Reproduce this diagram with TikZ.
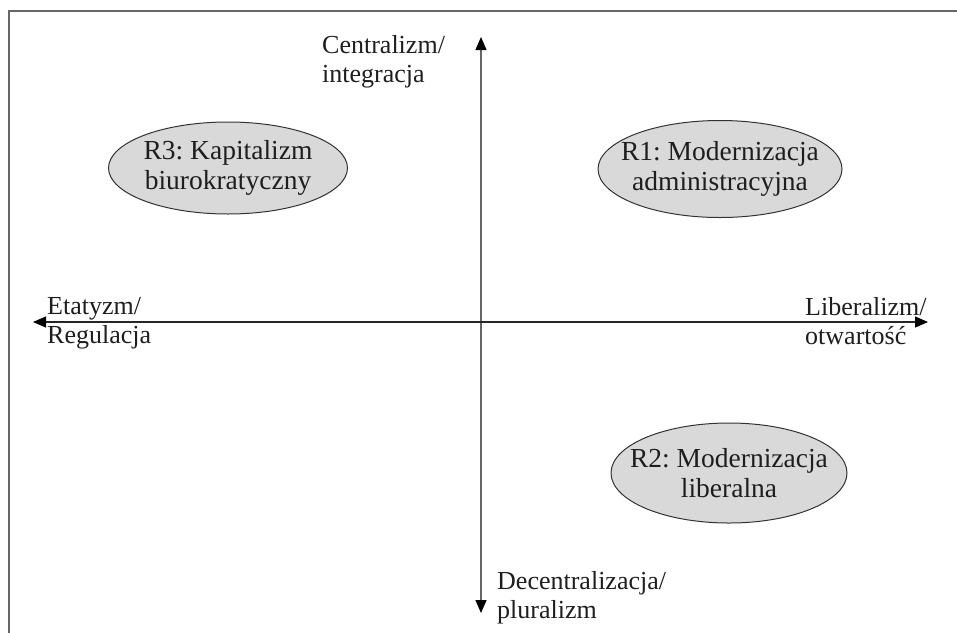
\documentclass[tikz,border=0pt]{standalone}
\usepackage{fontspec}
\setmainfont{Liberation Serif}
\usetikzlibrary{shapes.geometric,arrows.meta}
\definecolor{ellfill}{HTML}{D9D9D9}
\definecolor{txt}{HTML}{1E1E1E}
\tikzset{
  region/.style={ellipse, draw=black!80, line width=1pt, fill=ellfill,
    inner xsep=-40pt, inner ysep=-30pt,
    text=txt, align=center, font=\fontsize{27.5}{30.5}\selectfont},
  axislabel/.style={anchor=north west, inner sep=0pt, text=txt, align=left,
    font=\fontsize{26}{29.5}\selectfont},
  axisline/.style={line width=1.2pt, -{Triangle[length=13pt,width=11pt,color=black]}},
}
\begin{document}
\frenchspacing
\begin{tikzpicture}[x=1pt,y=-1pt]
\useasboundingbox (0,0) rectangle (957,632);
% frame (right and bottom edges lie outside the picture)
\draw[black!60, line width=2pt] (9,640) -- (9,11) -- (965,11);
% axes
\coordinate (top) at (481,37);
\coordinate (bottom) at (481,613);
\coordinate (left) at (33,322);
\coordinate (right) at (928,322);
\coordinate (midv) at (481,330);
\coordinate (midh) at (481,322);
\draw[axisline, draw=black!60] (midv) -- (top);
\draw[axisline, draw=black!60] (midv) -- (bottom);
\draw[axisline, draw=black!85] (midh) -- (left);
\draw[axisline, draw=black!85] (midh) -- (right);
% axis labels
\node[axislabel] (cent) at (322,35) {Centralizm/\\integracja};
\node[axislabel] (etat) at (47,297) {Etatyzm/\\Regulacja};
\node[axislabel] (lib) at (805,297) {Liberalizm/\\otwartość};
\node[axislabel] (dec) at (497,571) {Decentralizacja/\\pluralizm};
% regions
\node[region, minimum width=239pt, minimum height=92pt] (r3) at (228,168) {R3: Kapitalizm\\biurokratyczny};
\node[region, minimum width=244pt, minimum height=97pt] (r1) at (720,169) {R1: Modernizacja\\administracyjna};
\node[region, minimum width=236pt, minimum height=100pt] (r2) at (729,473) {R2: Modernizacja\\liberalna};
\end{tikzpicture}
\end{document}
